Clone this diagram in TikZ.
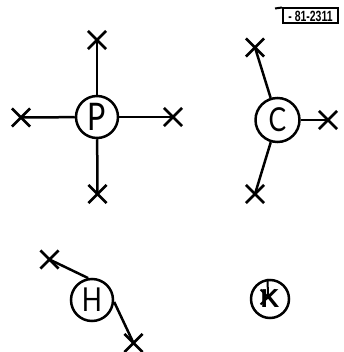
\documentclass[tikz,border=0pt]{standalone}
\usepackage{fontspec}
\usetikzlibrary{shapes.misc}
\newfontfamily\lettfont{Lato}
\setmainfont{Liberation Sans}
\newcommand{\lettr}[2]{\scalebox{0.8}[1]{\lettfont\fontsize{#1}{#1}\selectfont #2}}
\tikzset{
  x=1pt,y=-1pt,
  conn/.style={line width=2.5pt,black},
  atom/.style={circle,draw=black,line width=2.5pt,inner sep=0pt,minimum size=#1},
  mark x/.style={cross out,draw=black,line width=2.7pt,inner sep=0pt,minimum size=15.5pt},
}
\begin{document}
\begin{tikzpicture}
\useasboundingbox (0,0) rectangle (343,352);
% P
\node[atom=42pt] (p) at (97,117) {\lettr{38}{P}};
\node[mark x] (p1) at (97,40) {};
\node[mark x] (p2) at (21,117.5) {};
\node[mark x] (p3) at (173,117) {};
\node[mark x] (p4) at (97.5,194) {};
\foreach \n in {p1,p2,p3,p4} \draw[conn] (p) -- (\n.center);
% C
\node[atom=44pt] (c) at (277.5,120) {\lettr{33}{C}};
\node[mark x] (c1) at (255,47.5) {};
\node[mark x] (c2) at (328,120) {};
\node[mark x] (c3) at (255,194) {};
\foreach \n in {c1,c2,c3} \draw[conn] (c) -- (\n.center);
% H
\node[atom=42pt] (h) at (92,300) {\lettr{33}{H}};
\node[mark x] (h1) at (49.5,259.5) {};
\node[mark x] (h2) at (133.5,343) {};
\draw[conn] (h.100) -- (h1.center);
\draw[conn] (h.-5) -- (h2.center);
% K
\node[atom=38pt,font=\bfseries\fontsize{26}{26}\selectfont] (k) at (270,299) {K};
\node[cross out,draw=black,line width=2pt,inner sep=0pt,minimum size=13pt] (kx) at (268,297) {};
\draw[conn,line width=2pt] (k.97) -- (kx.center);
% stamp
\node[draw=black,line width=2pt,inner sep=0pt,minimum width=55pt,minimum height=15pt,font=\bfseries\fontsize{11}{11}\selectfont] (s) at (310.5,16) {\scalebox{0.95}[1.35]{- 81-2311}};
\coordinate (sl) at (275,8.5);
\draw[line width=2pt] (sl) -- (s.north west);
\end{tikzpicture}
\end{document}
